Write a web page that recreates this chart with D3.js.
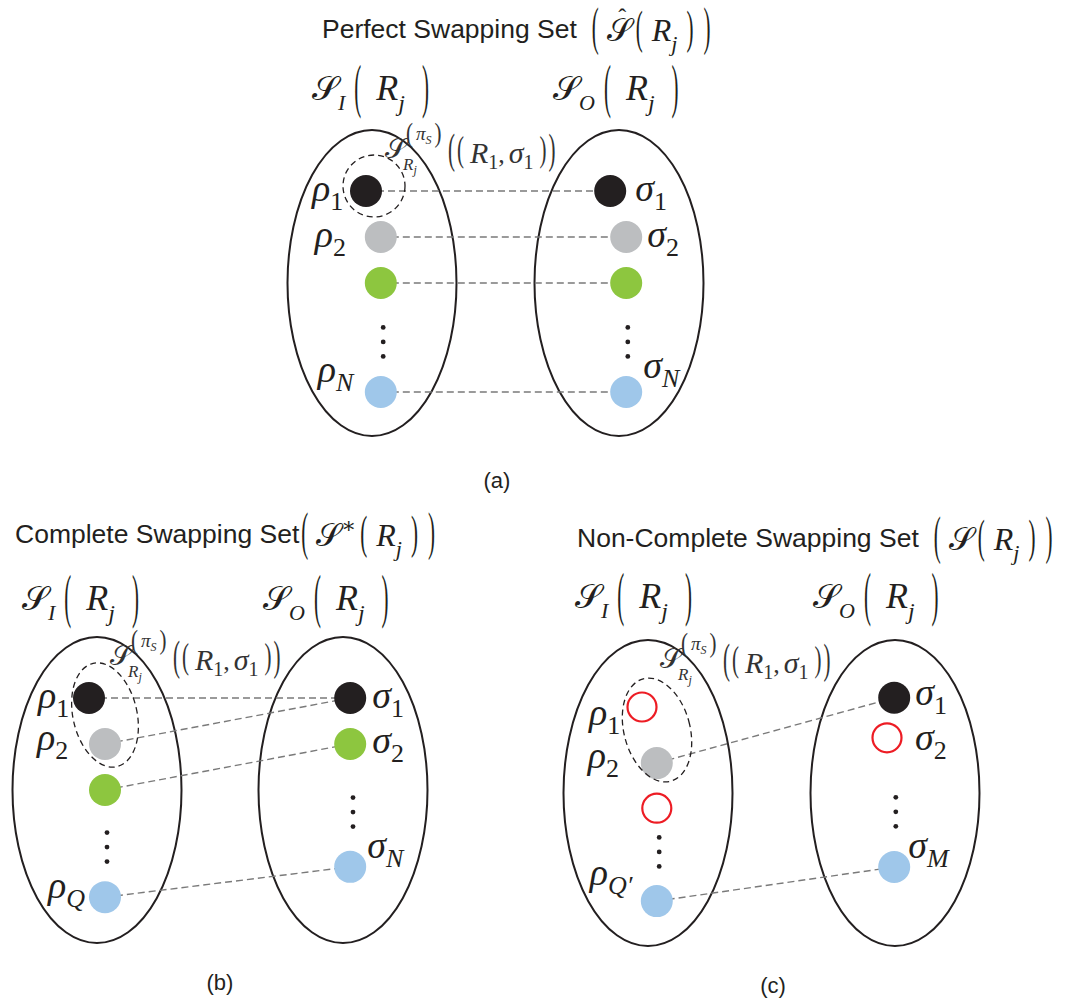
<!DOCTYPE html>
<html>
<head>
<meta charset="utf-8">
<script src="https://cdn.jsdelivr.net/npm/d3@7"></script>
<style>
  body { margin: 0; background: #fff; }
</style>
</head>
<body>
<script>
// ---- content ----
const titles = ["Perfect Swapping Set", "Complete Swapping Set", "Non-Complete Swapping Set"];
const captions = ["(a)", "(b)", "(c)"];
const setMarks = ["hat", "star", "plain"];

// node kinds, top to bottom, in each ellipse (input / output)
const inKindsA  = ["black", "gray", "green", "dots", "blue"];
const outKindsA = ["black", "gray", "green", "dots", "blue"];
const inKindsB  = ["black", "gray", "green", "dots", "blue"];
const outKindsB = ["black", "green", "dots", "blue"];
const inKindsC  = ["red", "gray", "red", "dots", "blue"];
const outKindsC = ["black", "red", "dots", "blue"];

// labels [letter, subscript]
const inLabelsA  = [["ρ", "1"], ["ρ", "2"], null, null, ["ρ", "N"]];
const outLabelsA = [["σ", "1"], ["σ", "2"], null, null, ["σ", "N"]];
const inLabelsB  = [["ρ", "1"], ["ρ", "2"], null, null, ["ρ", "Q"]];
const outLabelsB = [["σ", "1"], ["σ", "2"], null, ["σ", "N"]];
const inLabelsC  = [["ρ", "1"], ["ρ", "2"], null, null, ["ρ", "Q′"]];
const outLabelsC = [["σ", "1"], ["σ", "2"], null, ["σ", "M"]];

// dashed links: [input index, output index]
const linksA = [[0, 0], [1, 1], [2, 2], [4, 4]];
const linksB = [[0, 0], [1, 0], [2, 1], [4, 3]];
const linksC = [[1, 0], [4, 3]];

// ---- layout ----
const W = 1080, H = 1006;
const SERIF = "'Liberation Serif','DejaVu Serif',serif";
const SANS = "'Liberation Sans',Arial,Helvetica,sans-serif";
const CAL = "'DejaVu Sans','DejaVu Serif','Noto Sans',serif";
const ink = "#231f20";
const fills = { black: "#231f20", gray: "#bcbec0", green: "#8dc63f", blue: "#9fc7ea" };

// slot rows / column shifts per node
const inRowsA = [0, 1, 2, 3.28, 4.37],  inColsA = [-0.75, 1.1, 1.1, 1.4, 1.1];
const outRowsA = [0, 1, 2, 3.28, 4.37], outColsA = [-1.1, 0.9, 0.9, 1.1, 0.9];
const inRowsB = [0, 1, 2, 3.24, 4.33],  inColsB = [-1, 1, 1, 1.25, 1];
const outRowsB = [0, 1, 2.48, 3.67],    outColsB = [0.9, 0.9, 1.25, 0.9];
const inRowsC = [0.13, 1.35, 2.33, 3.28, 4.35], inColsC = [-0.75, 1.1, 1.1, 1.4, 1.1];
const outRowsC = [-0.07, 0.8, 2.41, 3.61],      outColsC = [-0.1, -1, 0.1, -0.1];

// label offsets from node centre (left x, baseline)
const inLabOffA = [[-54, 10], [-66, 10], null, null, [-63, -10]];
const outLabOffA = [[25, 10], [21, 10], null, null, [17, -14]];
const inLabOffB = [[-51, 10], [-68, 6], null, null, [-57, 1]];
const outLabOffB = [[22, 10], [22, 9], null, [17, -9]];
const inLabOffC = [[-53, 18], [-69, 5], null, null, [-67, -16]];
const outLabOffC = [[21, 7], [28, 12], null, [14, -9]];

const panels = [
  { L: [372, 283], R: [619, 283], title: [322, 38], tgap: 15, SI: [312, 100], SO: [553, 100], sub: [385, 158], cap: [497, 488], ring: { dx: 2, dy: -97, rx: 31, ry: 31, rot: 0 },
    inK: inKindsA, outK: outKindsA, inL: inLabelsA, outL: outLabelsA, links: linksA,
    inR: inRowsA, inC: inColsA, outR: outRowsA, outC: outColsA, inO: inLabOffA, outO: outLabOffA },
  { L: [97, 790], R: [343, 790], title: [15, 543], tgap: 2, SI: [22, 610], SO: [263, 610], sub: [110, 665], cap: [220, 990], ring: { dx: 8, dy: -75, rx: 32, ry: 53, rot: -13 },
    inK: inKindsB, outK: outKindsB, inL: inLabelsB, outL: outLabelsB, links: linksB,
    inR: inRowsB, inC: inColsB, outR: outRowsB, outC: outColsB, inO: inLabOffB, outO: outLabOffB },
  { L: [648, 793], R: [895, 793], title: [577, 547], tgap: 15, SI: [575, 608], SO: [813, 608], sub: [660, 668], cap: [773, 993], ring: { dx: 9, dy: -63, rx: 33, ry: 53, rot: -15 },
    inK: inKindsC, outK: outKindsC, inL: inLabelsC, outL: outLabelsC, links: linksC,
    inR: inRowsC, inC: inColsC, outR: outRowsC, outC: outColsC, inO: inLabOffC, outO: outLabOffC }
];

const rowY = d3.scaleLinear().domain([0, 1]).range([-92, -46]);
const colX = d3.scaleLinear().domain([0, 1]).range([0, 8]);

const svg = d3.select("body").append("svg")
  .attr("width", W).attr("height", H)
  .attr("viewBox", `0 0 ${W} ${H}`);

// lays tokens out left to right, returns end x
function mathRow(g, x, y, toks) {
  let cx = x;
  for (const k of toks) {
    if (k.p) {
      const fs = 30, ky = k.h / (0.875 * fs), sx = k.sx || 0.7;
      const yb = y + (k.c || 0) + 0.2565 * fs * ky;
      const el = g.append("text").text(k.p)
        .attr("font-family", SERIF).attr("font-size", fs)
        .attr("fill", k.fill || ink)
        .attr("transform", `translate(${cx},${yb}) scale(${sx},${ky})`);
      cx += el.node().getComputedTextLength() * sx + (k.g || 0);
    } else {
      const el = g.append("text").text(k.t)
        .attr("x", cx).attr("y", y + (k.dy || 0))
        .attr("font-family", k.f === "cal" ? CAL : SERIF)
        .attr("font-style", k.f === "rm" || k.f === "cal" ? "normal" : "italic")
        .attr("font-size", k.s).attr("fill", k.fill || ink);
      const w = el.node().getComputedTextLength();
      if (k.hat) {
        g.append("text").text("ˆ").attr("x", cx + w / 2 + 3).attr("y", y - k.s * 0.5)
          .attr("text-anchor", "middle").attr("font-family", SERIF)
          .attr("font-size", k.s * 0.75).attr("fill", ink);
      }
      cx += w + (k.g || 0);
    }
  }
  return cx;
}

function setHeader(g, x, y, letter) {
  mathRow(g, x, y, [
    { t: "𝒮", f: "cal", s: 34 },
    { t: letter, s: 22, dy: 10, g: 9 },
    { p: "(", h: 52, c: -9, g: 15 },
    { t: "R", s: 36 },
    { t: "j", s: 24, dy: 11, g: 17 },
    { p: ")", h: 52, c: -9 }
  ]);
}

function subsetLabel(g, x, y) {
  const thin = "#333";
  mathRow(g, x, y, [{ t: "𝒮", f: "cal", s: 28, fill: thin }]);
  mathRow(g, x + 21, y - 18, [
    { p: "(", h: 24, c: -5, fill: thin, g: 3 },
    { t: "π", s: 19, fill: thin },
    { t: "S", s: 12, dy: 4, fill: thin, g: 3 },
    { p: ")", h: 24, c: -5, fill: thin }
  ]);
  mathRow(g, x + 18, y + 12, [
    { t: "R", s: 17, fill: thin },
    { t: "j", s: 12, dy: 4, fill: thin }
  ]);
  mathRow(g, x + 63, y + 5, [
    { p: "(", h: 37, c: -11, fill: thin, g: 2 },
    { p: "(", h: 31, c: -11, fill: thin, g: 6 },
    { t: "R", s: 30, fill: thin },
    { t: "1", f: "rm", s: 20, dy: 6, fill: thin },
    { t: ",", f: "rm", s: 26, fill: thin, g: 4 },
    { t: "σ", s: 30, fill: thin },
    { t: "1", f: "rm", s: 20, dy: 6, fill: thin, g: 6 },
    { p: ")", h: 31, c: -11, fill: thin, g: 2 },
    { p: ")", h: 37, c: -11, fill: thin }
  ]);
}

panels.forEach((p, i) => {
  const g = svg.append("g").attr("class", "panel");

  // title + set symbol
  const tt = g.append("text").text(titles[i])
    .attr("x", p.title[0]).attr("y", p.title[1])
    .attr("font-family", SANS).attr("font-size", 26.5).attr("fill", ink);
  const tx = p.title[0] + tt.node().getComputedTextLength() + p.tgap;
  const sym = setMarks[i] === "hat" ? [{ t: "𝒮", f: "cal", s: 32, hat: true, g: 4 }]
    : setMarks[i] === "star" ? [{ t: "𝒮", f: "cal", s: 32 }, { t: "∗", f: "rm", s: 22, dy: -13, g: 4 }]
    : [{ t: "𝒮", f: "cal", s: 32, g: 4 }];
  mathRow(g, tx, p.title[1] + 3, [
    { p: "(", h: 46, c: -10, g: 8 },
    ...sym,
    { p: "(", h: 40, c: -10, g: 9 },
    { t: "R", s: 32 },
    { t: "j", s: 22, dy: 10, g: 9 },
    { p: ")", h: 40, c: -10, g: 10 },
    { p: ")", h: 46, c: -10 }
  ]);

  setHeader(g, p.SI[0], p.SI[1], "I");
  setHeader(g, p.SO[0], p.SO[1], "O");

  // ellipses
  [p.L, p.R].forEach(c => {
    g.append("ellipse").attr("cx", c[0]).attr("cy", c[1]).attr("rx", 84.5).attr("ry", 153)
      .attr("fill", "none").attr("stroke", ink).attr("stroke-width", 2);
  });

  const place = (c, rows, cols) => rows.map((r, k) => [c[0] + colX(cols[k]), c[1] + rowY(r)]);
  const inPos = place(p.L, p.inR, p.inC);
  const outPos = place(p.R, p.outR, p.outC);

  // dashed links
  g.selectAll("line.link").data(p.links).join("line").attr("class", "link")
    .attr("x1", d => inPos[d[0]][0]).attr("y1", d => inPos[d[0]][1])
    .attr("x2", d => outPos[d[1]][0]).attr("y2", d => outPos[d[1]][1])
    .attr("stroke", "#7a7a7a").attr("stroke-width", 1.4).attr("stroke-dasharray", "7,4");

  // nodes
  const drawNodes = (kinds, pos) => {
    kinds.forEach((k, j) => {
      const [x, y] = pos[j];
      if (k === "dots") {
        [-14.5, 0, 14.5].forEach(o => g.append("circle").attr("cx", x).attr("cy", y + o).attr("r", 2.4).attr("fill", ink));
      } else if (k === "red") {
        g.append("circle").attr("cx", x).attr("cy", y).attr("r", 14.5)
          .attr("fill", "#fff").attr("stroke", "#ed1c24").attr("stroke-width", 2.2);
      } else {
        g.append("circle").attr("cx", x).attr("cy", y).attr("r", 16).attr("fill", fills[k]);
      }
    });
  };
  drawNodes(p.inK, inPos);
  drawNodes(p.outK, outPos);

  // dashed ring around the subset
  g.append("ellipse")
    .attr("transform", `translate(${p.L[0] + p.ring.dx},${p.L[1] + p.ring.dy}) rotate(${p.ring.rot})`)
    .attr("rx", p.ring.rx).attr("ry", p.ring.ry)
    .attr("fill", "none").attr("stroke", ink).attr("stroke-width", 1.3).attr("stroke-dasharray", "6,4");

  // node labels
  const drawLabels = (labels, offs, pos) => {
    labels.forEach((lab, j) => {
      if (!lab) return;
      const t = g.append("text")
        .attr("x", pos[j][0] + offs[j][0]).attr("y", pos[j][1] + offs[j][1])
        .attr("font-family", SERIF).attr("fill", ink);
      t.append("tspan").text(lab[0]).attr("font-style", "italic").attr("font-size", 38);
      t.append("tspan").text(lab[1]).attr("dy", 9).attr("font-size", 26)
        .attr("font-style", /\d/.test(lab[1]) ? "normal" : "italic");
    });
  };
  drawLabels(p.inL, p.inO, inPos);
  drawLabels(p.outL, p.outO, outPos);

  subsetLabel(g, p.sub[0], p.sub[1]);

  g.append("text").text(captions[i]).attr("x", p.cap[0]).attr("y", p.cap[1])
    .attr("text-anchor", "middle").attr("font-family", SANS).attr("font-size", 22).attr("fill", ink);
});
</script>
</body>
</html>
